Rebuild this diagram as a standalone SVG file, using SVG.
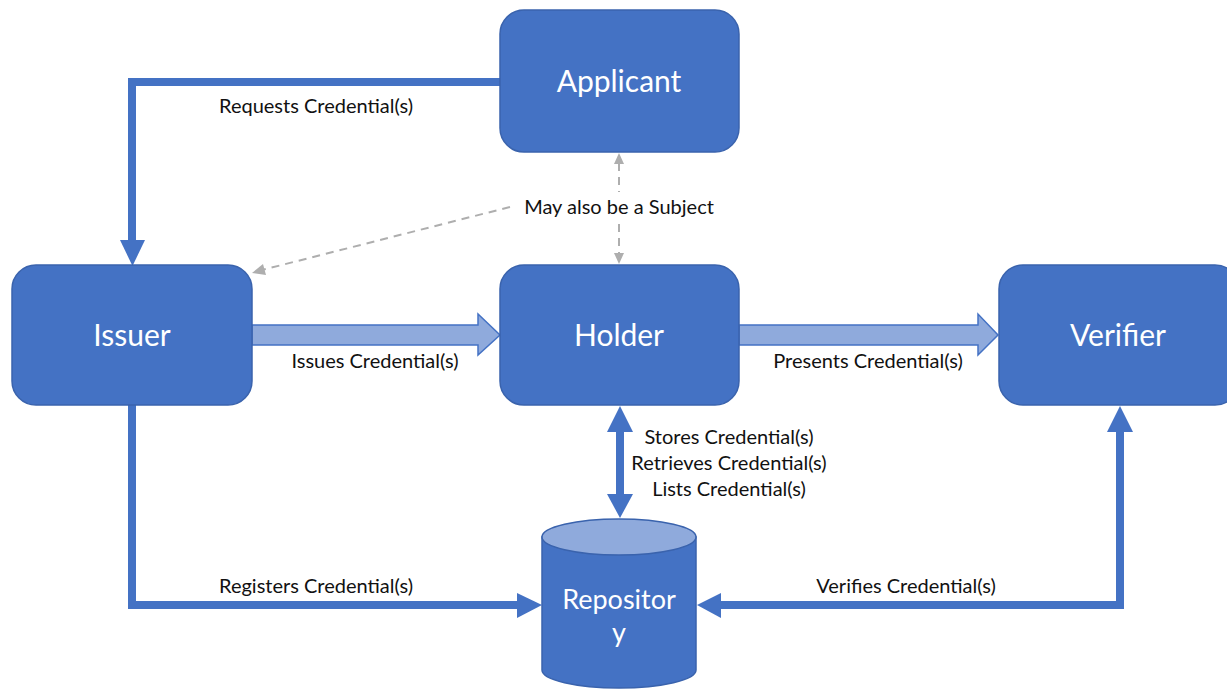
<svg xmlns="http://www.w3.org/2000/svg" width="1227" height="689" viewBox="0 0 1227 689">
<defs>
<style>
.box{fill:#4472C4;stroke:#3A63AD;stroke-width:1.5}
.title{font-family:Lato,"Liberation Sans",sans-serif;font-size:30px;fill:#fff;text-anchor:middle}
.lbl{font-family:Lato,"Liberation Sans",sans-serif;font-size:20px;fill:#111;text-anchor:middle}
.conn{fill:none;stroke:#4472C4;stroke-width:8}
.head{fill:#4472C4}
.dash{fill:none;stroke:#AEAEAE;stroke-width:2;stroke-dasharray:8 6}
.dhead{fill:#AEAEAE}
.block{fill:#8FAADC;stroke:#4472C4;stroke-width:1.5}
</style>
</defs>
<rect width="1227" height="689" fill="#fff"/>
<g id="connectors">
<polyline class="conn" points="502,82 132,82 132,242"/>
<polygon class="head" points="120,240 145,240 132.5,266"/>
<line class="dash" x1="510" y1="207" x2="262" y2="270"/>
<polygon class="dhead" points="252,273 263,264 266,275"/>
<line class="dash" x1="619" y1="163" x2="619" y2="192"/>
<polygon class="dhead" points="619,153 614,164 624,164"/>
<line class="dash" x1="619" y1="224" x2="619" y2="254"/>
<polygon class="dhead" points="619,264 614,253 624,253"/>
<polygon class="block" points="252,325 478,325 478,314 500,335 478,355 478,345 252,345"/>
<polygon class="block" points="739,325 978,325 978,314 998,335 978,355 978,345 739,345"/>
<line class="conn" x1="620" y1="430" x2="620" y2="497"/>
<polygon class="head" points="620,406 607,432 633,432"/>
<polygon class="head" points="620,518 607,494 633,494"/>
<polyline class="conn" points="132,405 132,605 520,605"/>
<polygon class="head" points="542,605 517,593 517,618"/>
<polyline class="conn" points="1120,430 1120,605 718,605"/>
<polygon class="head" points="1120,406 1107,432 1133,432"/>
<polygon class="head" points="697,605 721,593 721,618"/>
<text class="lbl" x="316" y="113">Requests Credential(s)</text>
<text class="lbl" x="619" y="214">May also be a Subject</text>
<text class="lbl" x="375" y="368">Issues Credential(s)</text>
<text class="lbl" x="868" y="368">Presents Credential(s)</text>
<text class="lbl" x="729" y="444">Stores Credential(s)</text>
<text class="lbl" x="729" y="470">Retrieves Credential(s)</text>
<text class="lbl" x="729" y="496">Lists Credential(s)</text>
<text class="lbl" x="316" y="593">Registers Credential(s)</text>
<text class="lbl" x="906" y="593">Verifies Credential(s)</text>
</g>
<g id="applicant">
<rect class="box" x="500" y="10" width="239" height="142" rx="24"/>
<text class="title" x="619" y="92">Applicant</text>
</g>
<g id="issuer">
<rect class="box" x="12" y="265" width="240" height="140" rx="24"/>
<text class="title" x="132" y="346">Issuer</text>
</g>
<g id="holder">
<rect class="box" x="500" y="265" width="239" height="140" rx="24"/>
<text class="title" x="619" y="346">Holder</text>
</g>
<g id="verifier">
<rect class="box" x="999" y="265" width="240" height="140" rx="24"/>
<text class="title" x="1118" y="346">Verifier</text>
</g>
<g id="repository">
<path class="box" d="M542,537 L542,670 A77,18 0 0 0 696,670 L696,537 Z"/>
<ellipse cx="619" cy="537" rx="77" ry="18" fill="#8FAADC" stroke="#3A63AD" stroke-width="1.5"/>
<text class="title" x="619" y="609" style="font-size:27px">Repositor</text>
<text class="title" x="619" y="642" style="font-size:27px">y</text>
</g>
</svg>
